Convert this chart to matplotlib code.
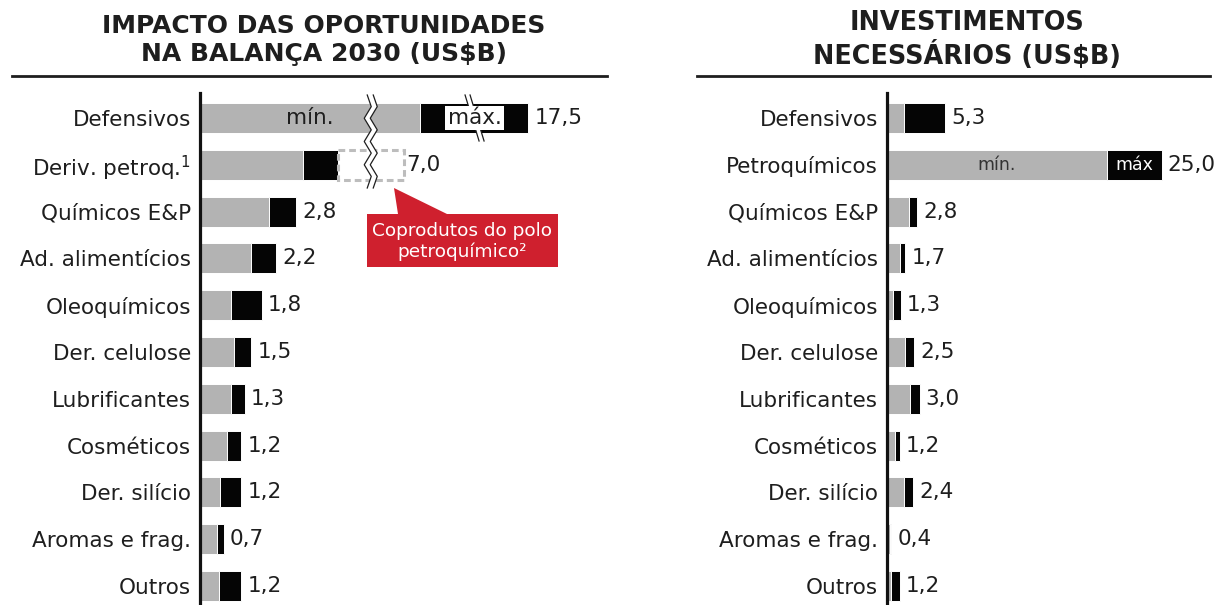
import numpy as np
import matplotlib.pyplot as plt
import matplotlib.transforms as mtransforms
from matplotlib.lines import Line2D
from matplotlib.patches import Polygon
from matplotlib.ticker import NullLocator

# ---- dados ----
categorias_imp = ['Defensivos', 'Deriv. petroq.$^{1}$', 'Químicos E&P', 'Ad. alimentícios',
                  'Oleoquímicos', 'Der. celulose', 'Lubrificantes', 'Cosméticos',
                  'Der. silício', 'Aromas e frag.', 'Outros']
imp_min = [8.0, 3.0, 2.0, 1.5, 0.9, 1.0, 0.9, 0.8, 0.6, 0.5, 0.55]
imp_max = [17.5, 4.0, 2.8, 2.2, 1.8, 1.5, 1.3, 1.2, 1.2, 0.7, 1.2]
imp_rotulo = [17.5, 7.0, 2.8, 2.2, 1.8, 1.5, 1.3, 1.2, 1.2, 0.7, 1.2]
coprodutos_petroq = 7.0

categorias_inv = ['Defensivos', 'Petroquímicos', 'Químicos E&P', 'Ad. alimentícios',
                  'Oleoquímicos', 'Der. celulose', 'Lubrificantes', 'Cosméticos',
                  'Der. silício', 'Aromas e frag.', 'Outros']
inv_min = [1.6, 20.0, 2.0, 1.2, 0.55, 1.7, 2.1, 0.8, 1.55, 0.3, 0.45]
inv_max = [5.3, 25.0, 2.8, 1.7, 1.3, 2.5, 3.0, 1.2, 2.4, 0.4, 1.2]

CINZA = '#b3b3b3'
PRETO = '#050505'
TEXTO = '#1e1e1e'
VERMELHO = '#cf202e'
FS = 15.5

W, H = 1222, 605
ROW_PX = 46.8
BAR_H = 0.64

# escala quebrada do painel esquerdo
QUEBRA1, K1 = 4.9, 0.475
QUEBRA2, K2 = 11.3, 0.25


def comprime(v):
    v = np.asarray(v, dtype=float)
    return (np.minimum(v, QUEBRA1)
            + np.clip(v - QUEBRA1, 0, QUEBRA2 - QUEBRA1) * K1
            + np.maximum(v - QUEBRA2, 0) * K2)


def expande(d):
    d = np.asarray(d, dtype=float)
    d2 = QUEBRA1 + (QUEBRA2 - QUEBRA1) * K1
    return np.where(d <= QUEBRA1, d,
                    np.where(d <= d2, QUEBRA1 + (d - QUEBRA1) / K1,
                             QUEBRA2 + (d - d2) / K2))


def fmt(v):
    return f'{v:.1f}'.replace('.', ',')


fig = plt.figure(figsize=(W / 100, H / 100), dpi=100)
ax1 = fig.add_axes([199.5 / W, 0, (607 - 199.5) / W, 512 / H])
ax2 = fig.add_axes([886.5 / W, 0, (1210 - 886.5) / W, 512 / H])

# ---- painel esquerdo ----
ax1.set_xscale('function', functions=(comprime, expande))
ax1.set_xlim(0, float(expande(407 / 34.6)))
ax2.set_xlim(0, (1210 - 888) / 10.95)

for ax, cats in ((ax1, categorias_imp), (ax2, categorias_inv)):
    ax.set_ylim(10 + 19 / ROW_PX, -25 / ROW_PX)
    ax.set_yticks(range(len(cats)))
    ax.set_yticklabels(cats, fontsize=FS, color=TEXTO)
    ax.tick_params(axis='y', length=0, pad=6)
    ax.xaxis.set_major_locator(NullLocator())
    ax.xaxis.set_minor_locator(NullLocator())
    ax.tick_params(axis='x', labelbottom=False, length=0)
    for s in ('top', 'right', 'bottom'):
        ax.spines[s].set_visible(False)
    ax.spines['left'].set_linewidth(2.3)
    ax.spines['left'].set_color('#111111')

y = np.arange(len(categorias_imp))
ax1.barh(y, imp_min, height=BAR_H, color=CINZA, edgecolor='white', linewidth=0.7)
ax1.barh(y, np.array(imp_max) - np.array(imp_min), left=imp_min, height=BAR_H,
         color=PRETO, edgecolor='white', linewidth=0.7)
ax1.barh(1, coprodutos_petroq - imp_max[1], left=imp_max[1], height=BAR_H, fill=False,
         edgecolor='#bdbdbd', linewidth=2.2, linestyle=(0, (2.2, 1.3)))

for i, v in enumerate(imp_rotulo):
    ax1.annotate(fmt(v), (v, i), xytext=(2 if i == 1 else 4.5, 0), textcoords='offset points',
                 ha='left', va='center', fontsize=FS, color=TEXTO)

# "mín." no centro visível da barra cinza
meio = float(expande(comprime(imp_min[0]) / 2))
ax1.text(meio, 0, 'mín.', ha='center', va='center', fontsize=FS, color=TEXTO)

# símbolos de quebra
blend = mtransforms.blended_transform_factory(ax1.transAxes, ax1.transData)
axw = 607 - 199.5


def xfrac(v):
    return ax1.transAxes.inverted().transform(ax1.transData.transform((v, 0)))[0]


def quebra(xc_px, y_px, x_px, gap):
    yy = np.array(y_px) / ROW_PX
    xl = (xc_px - gap / 2 + np.array(x_px)) / axw
    xr = (xc_px + gap / 2 + np.array(x_px)) / axw
    poly = Polygon(np.column_stack([np.r_[xl, xr[::-1]], np.r_[yy, yy[::-1]]]),
                   closed=True, facecolor='white', edgecolor='none', transform=blend, zorder=3)
    ax1.add_patch(poly)
    for xs in (xl, xr):
        ax1.add_line(Line2D(xs, yy, color=TEXTO, lw=0.9, transform=blend, zorder=4))


b1 = xfrac(QUEBRA1) * axw
ys = np.linspace(-23, 70, 9)
zz = [0, 4, -3, 4, -3, 4, -3, 4, 0]
quebra(b1 + 1, ys, zz, 6)

b2 = xfrac(QUEBRA2) * axw
quebra(b2, [-23, 23], [-7, 7], 5)
ax1.text(QUEBRA2, 0, 'máx.', ha='center', va='center', fontsize=FS, color=TEXTO, zorder=5,
         bbox=dict(boxstyle='square,pad=0.1', facecolor='white', edgecolor='none'))

# ---- painel direito ----
y2 = np.arange(len(categorias_inv))
ax2.barh(y2, inv_min, height=BAR_H, color=CINZA, edgecolor='white', linewidth=0.7)
ax2.barh(y2, np.array(inv_max) - np.array(inv_min), left=inv_min, height=BAR_H,
         color=PRETO, edgecolor='white', linewidth=0.7)
for i, v in enumerate(inv_max):
    ax2.annotate(fmt(v), (v, i), xytext=(4.5, 0), textcoords='offset points',
                 ha='left', va='center', fontsize=FS, color=TEXTO)
ax2.text(inv_min[1] / 2, 1, 'mín.', ha='center', va='center', fontsize=12.5, color='#333333')
ax2.text((inv_min[1] + inv_max[1]) / 2, 1, 'máx', ha='center', va='center',
         fontsize=12.5, color='white')

# ---- títulos ----
fig.text(324 / W, 1 - 40 / H, 'IMPACTO DAS OPORTUNIDADES\nNA BALANÇA 2030 (US$B)',
         ha='center', va='center', fontsize=18, fontweight='bold', color=TEXTO, linespacing=1.2)
fig.text(967 / W, 1 - 40 / H, 'INVESTIMENTOS\nNECESSÁRIOS (US$B)',
         ha='center', va='center', fontsize=18.4, fontweight='bold', color=TEXTO, linespacing=1.2)
for x0, x1 in ((12, 607), (697, 1210)):
    fig.add_artist(Line2D([x0 / W, x1 / W], [1 - 76 / H] * 2, lw=2, color=TEXTO))

# ---- balão vermelho ----
pts = [(367, 214), (398, 214), (394, 188), (447, 214), (558, 214), (558, 267), (367, 267)]
fig.add_artist(Polygon([(px / W, 1 - py / H) for px, py in pts], closed=True,
                       facecolor=VERMELHO, edgecolor='none', transform=fig.transFigure))
fig.text(462 / W, 1 - 241.5 / H, 'Coprodutos do polo\npetroquímico²', ha='center', va='center',
         fontsize=13.3, color='white', linespacing=1.15)

fig.savefig('out.png', dpi=100)
